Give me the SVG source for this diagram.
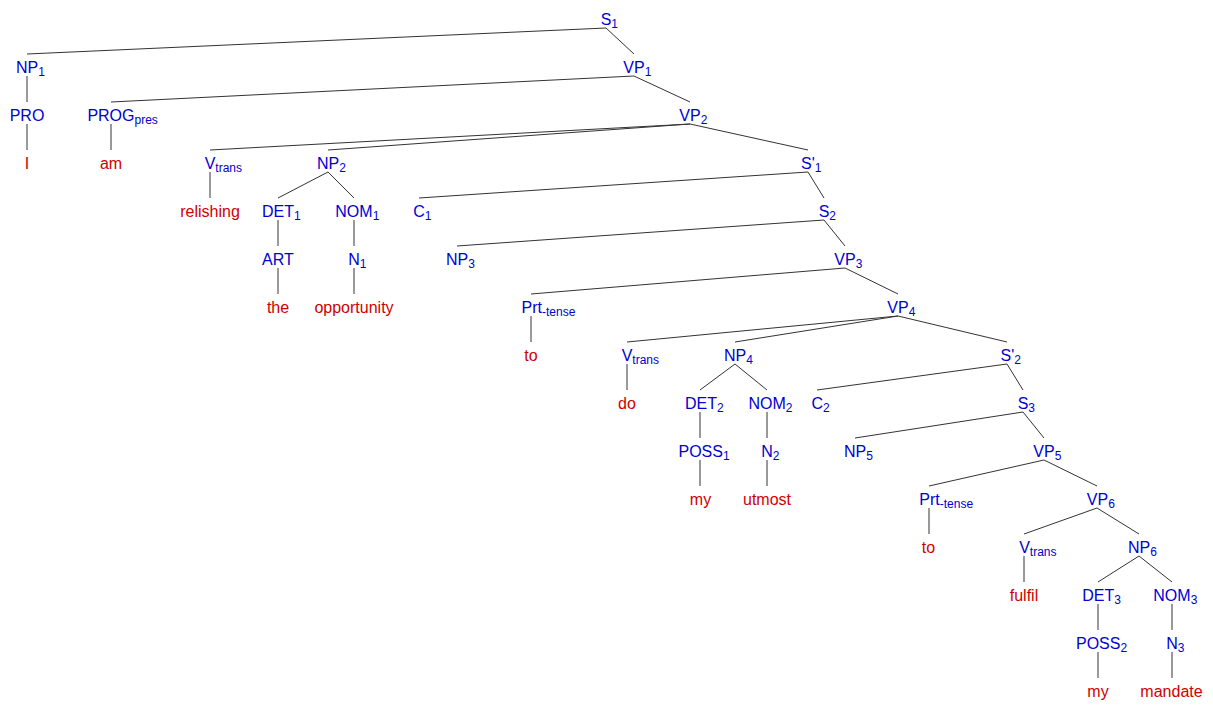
<svg xmlns="http://www.w3.org/2000/svg" width="1213" height="720" viewBox="0 0 1213 720">
<style>
text{font-family:"Liberation Sans",Arial,Helvetica,sans-serif;font-size:16px}
.c{fill:#0000d2}
.w{fill:#d00000;text-anchor:middle}
.s{font-size:12px}
#edges line{stroke:#333;stroke-width:1}
</style>
<rect width="1213" height="720" fill="#fff"/>
<g id="edges">
<line x1="606" y1="28" x2="27" y2="54"/><line x1="606" y1="28" x2="634" y2="54"/>
<line x1="27" y1="76" x2="27" y2="102"/><line x1="634" y1="76" x2="111" y2="102"/><line x1="634" y1="76" x2="690" y2="102"/>
<line x1="27" y1="124" x2="27" y2="150"/><line x1="111" y1="124" x2="111" y2="150"/><line x1="690" y1="124" x2="210" y2="150"/><line x1="690" y1="124" x2="328" y2="150"/><line x1="690" y1="124" x2="808" y2="150"/>
<line x1="210" y1="172" x2="210" y2="198"/><line x1="328" y1="172" x2="278" y2="198"/><line x1="328" y1="172" x2="354" y2="198"/><line x1="808" y1="172" x2="419" y2="198"/><line x1="808" y1="172" x2="824" y2="198"/>
<line x1="278" y1="220" x2="278" y2="246"/><line x1="354" y1="220" x2="354" y2="246"/><line x1="824" y1="220" x2="457" y2="246"/><line x1="824" y1="220" x2="845" y2="246"/>
<line x1="278" y1="268" x2="278" y2="294"/><line x1="354" y1="268" x2="354" y2="294"/><line x1="845" y1="268" x2="531" y2="294"/><line x1="845" y1="268" x2="898" y2="294"/>
<line x1="531" y1="316" x2="531" y2="342"/><line x1="898" y1="316" x2="627" y2="342"/><line x1="898" y1="316" x2="735" y2="342"/><line x1="898" y1="316" x2="1007" y2="342"/>
<line x1="627" y1="364" x2="627" y2="390"/><line x1="735" y1="364" x2="700" y2="390"/><line x1="735" y1="364" x2="767" y2="390"/><line x1="1007" y1="364" x2="817" y2="390"/><line x1="1007" y1="364" x2="1023" y2="390"/>
<line x1="700" y1="412" x2="700" y2="438"/><line x1="767" y1="412" x2="767" y2="438"/><line x1="1023" y1="412" x2="855" y2="438"/><line x1="1023" y1="412" x2="1044" y2="438"/>
<line x1="700" y1="460" x2="700" y2="486"/><line x1="767" y1="460" x2="767" y2="486"/><line x1="1044" y1="460" x2="929" y2="486"/><line x1="1044" y1="460" x2="1097" y2="486"/>
<line x1="929" y1="508" x2="929" y2="534"/><line x1="1097" y1="508" x2="1024" y2="534"/><line x1="1097" y1="508" x2="1139" y2="534"/>
<line x1="1024" y1="556" x2="1024" y2="582"/><line x1="1139" y1="556" x2="1098" y2="582"/><line x1="1139" y1="556" x2="1172" y2="582"/>
<line x1="1098" y1="604" x2="1098" y2="630"/><line x1="1172" y1="604" x2="1172" y2="630"/>
<line x1="1098" y1="652" x2="1098" y2="678"/><line x1="1172" y1="652" x2="1172" y2="678"/>
</g>
<g id="n-S1"><text class="c" x="600.7" y="25">S<tspan class="s" dy="3">1</tspan></text></g>
<g id="n-NP1"><text class="c" x="15.9" y="73">NP<tspan class="s" dy="3">1</tspan></text></g>
<g id="n-VP1"><text class="c" x="623.3" y="73">VP<tspan class="s" dy="3">1</tspan></text></g>
<g id="n-PRO"><text class="c" x="9.7" y="121">PRO</text></g>
<g id="n-PROG"><text class="c" x="87.4" y="121">PROG<tspan class="s" dy="3">pres</tspan></text></g>
<g id="n-VP2"><text class="c" x="679.3" y="121">VP<tspan class="s" dy="3">2</tspan></text></g>
<g id="n-I"><text class="w" x="27" y="169">I</text></g>
<g id="n-am"><text class="w" x="111" y="169">am</text></g>
<g id="n-V1"><text class="c" x="204.7" y="169">V<tspan class="s" dy="3">trans</tspan></text></g>
<g id="n-NP2"><text class="c" x="316.9" y="169">NP<tspan class="s" dy="3">2</tspan></text></g>
<g id="n-Sbar1"><text class="c" x="801.1" y="169">S'<tspan class="s" dy="3">1</tspan></text></g>
<g id="n-relishing"><text class="w" x="210" y="217">relishing</text></g>
<g id="n-DET1"><text class="c" x="262" y="217">DET<tspan class="s" dy="3">1</tspan></text></g>
<g id="n-NOM1"><text class="c" x="335.3" y="217">NOM<tspan class="s" dy="3">1</tspan></text></g>
<g id="n-C1"><text class="c" x="413.2" y="217">C<tspan class="s" dy="3">1</tspan></text></g>
<g id="n-S2"><text class="c" x="818.7" y="217">S<tspan class="s" dy="3">2</tspan></text></g>
<g id="n-ART"><text class="c" x="262" y="265">ART</text></g>
<g id="n-N1"><text class="c" x="348.2" y="265">N<tspan class="s" dy="3">1</tspan></text></g>
<g id="n-NP3"><text class="c" x="445.9" y="265">NP<tspan class="s" dy="3">3</tspan></text></g>
<g id="n-VP3"><text class="c" x="834.3" y="265">VP<tspan class="s" dy="3">3</tspan></text></g>
<g id="n-the"><text class="w" x="278" y="313">the</text></g>
<g id="n-opportunity"><text class="w" x="354" y="313">opportunity</text></g>
<g id="n-Prt1"><text class="c" x="521.5" y="313">Prt<tspan class="s" dy="3">-tense</tspan></text></g>
<g id="n-VP4"><text class="c" x="887.3" y="313">VP<tspan class="s" dy="3">4</tspan></text></g>
<g id="n-to1"><text class="w" x="531" y="361">to</text></g>
<g id="n-V2"><text class="c" x="621.7" y="361">V<tspan class="s" dy="3">trans</tspan></text></g>
<g id="n-NP4"><text class="c" x="723.9" y="361">NP<tspan class="s" dy="3">4</tspan></text></g>
<g id="n-Sbar2"><text class="c" x="1000.6" y="361">S'<tspan class="s" dy="3">2</tspan></text></g>
<g id="n-do"><text class="w" x="627" y="409">do</text></g>
<g id="n-DET2"><text class="c" x="685" y="409">DET<tspan class="s" dy="3">2</tspan></text></g>
<g id="n-NOM2"><text class="c" x="748.5" y="409">NOM<tspan class="s" dy="3">2</tspan></text></g>
<g id="n-C2"><text class="c" x="811.5" y="409">C<tspan class="s" dy="3">2</tspan></text></g>
<g id="n-S3"><text class="c" x="1017.7" y="409">S<tspan class="s" dy="3">3</tspan></text></g>
<g id="n-POSS1"><text class="c" x="678.5" y="457">POSS<tspan class="s" dy="3">1</tspan></text></g>
<g id="n-N2"><text class="c" x="761.2" y="457">N<tspan class="s" dy="3">2</tspan></text></g>
<g id="n-NP5"><text class="c" x="843.9" y="457">NP<tspan class="s" dy="3">5</tspan></text></g>
<g id="n-VP5"><text class="c" x="1033.3" y="457">VP<tspan class="s" dy="3">5</tspan></text></g>
<g id="n-my1"><text class="w" x="700.5" y="505">my</text></g>
<g id="n-utmost"><text class="w" x="767" y="505">utmost</text></g>
<g id="n-Prt2"><text class="c" x="919.3" y="505">Prt<tspan class="s" dy="3">-tense</tspan></text></g>
<g id="n-VP6"><text class="c" x="1086.8" y="505">VP<tspan class="s" dy="3">6</tspan></text></g>
<g id="n-to2"><text class="w" x="928.5" y="553">to</text></g>
<g id="n-V3"><text class="c" x="1019.2" y="553">V<tspan class="s" dy="3">trans</tspan></text></g>
<g id="n-NP6"><text class="c" x="1127.9" y="553">NP<tspan class="s" dy="3">6</tspan></text></g>
<g id="n-fulfil"><text class="w" x="1024" y="601">fulfil</text></g>
<g id="n-DET3"><text class="c" x="1082.3" y="601">DET<tspan class="s" dy="3">3</tspan></text></g>
<g id="n-NOM3"><text class="c" x="1153.3" y="601">NOM<tspan class="s" dy="3">3</tspan></text></g>
<g id="n-POSS2"><text class="c" x="1076" y="649">POSS<tspan class="s" dy="3">2</tspan></text></g>
<g id="n-N3"><text class="c" x="1166.2" y="649">N<tspan class="s" dy="3">3</tspan></text></g>
<g id="n-my2"><text class="w" x="1098" y="697">my</text></g>
<g id="n-mandate"><text class="w" x="1171.5" y="697">mandate</text></g>
</svg>
